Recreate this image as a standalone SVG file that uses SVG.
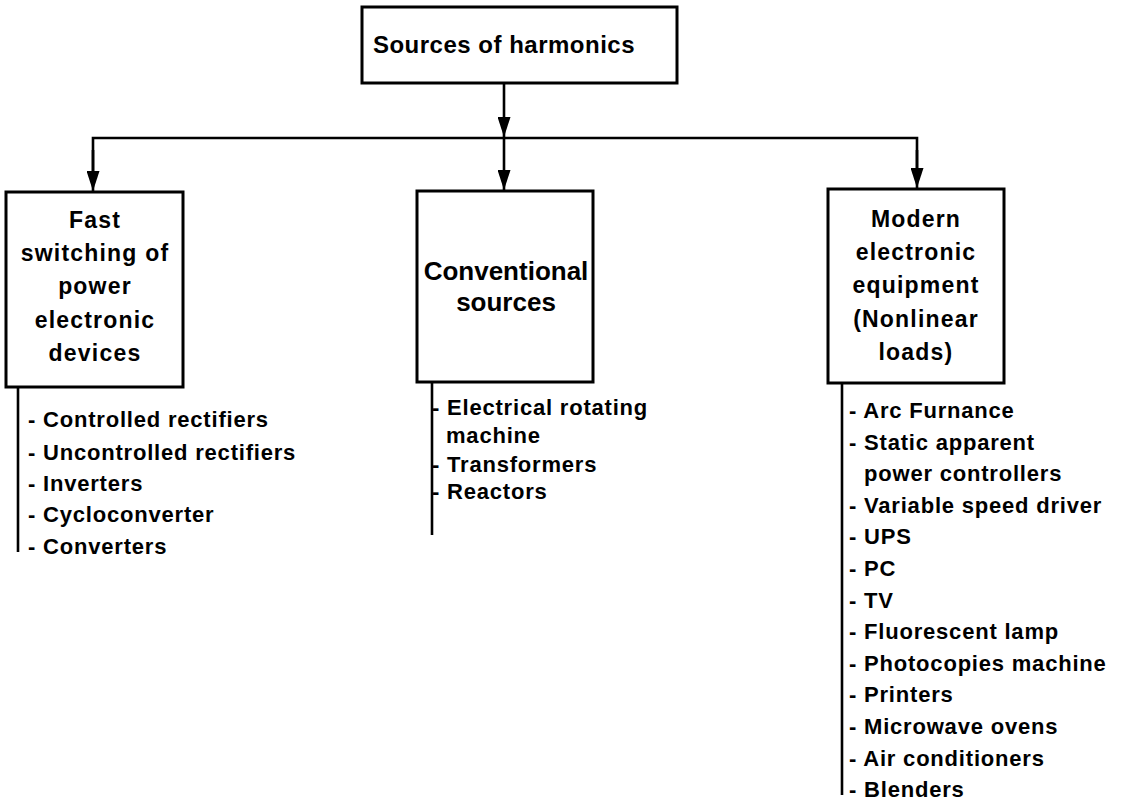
<svg xmlns="http://www.w3.org/2000/svg" width="1121" height="802" viewBox="0 0 1121 802">
<style>
.box{fill:#fff;stroke:#000;stroke-width:3}
.ln{fill:none;stroke:#000;stroke-width:2.6}
.t{font-family:"Liberation Sans",Arial,sans-serif;font-weight:bold;fill:#000}
.bt{font-size:23px;letter-spacing:1.2px;text-anchor:middle}
.lt{font-size:22px;letter-spacing:0.8px}
</style>
<defs>
<marker id="ah" markerWidth="20" markerHeight="13" refX="20" refY="6.5" viewBox="0 0 20 13" markerUnits="userSpaceOnUse" orient="auto">
<path d="M0,0 L20,6.5 L0,13 Z" fill="#000"/>
</marker>
</defs>
<rect width="1121" height="802" fill="#fff"/>
<g id="connectors">
<line class="ln" x1="504" y1="83" x2="504" y2="137" marker-end="url(#ah)"/>
<line class="ln" x1="504" y1="137" x2="504" y2="190" marker-end="url(#ah)"/>
<polyline class="ln" points="93,175 93,138 917,138 917,172"/>
<line class="ln" x1="93" y1="150" x2="93" y2="191" marker-end="url(#ah)"/>
<line class="ln" x1="917" y1="150" x2="917" y2="188" marker-end="url(#ah)"/>
<line class="ln" x1="18" y1="387" x2="18" y2="552"/>
<line class="ln" x1="432" y1="382" x2="432" y2="535"/>
<line class="ln" x1="842" y1="383" x2="842" y2="795"/>
</g>
<g id="root">
<rect class="box" x="362" y="7" width="315" height="76"/>
<text class="t" x="504" y="53" font-size="24" letter-spacing="0.5" text-anchor="middle">Sources of harmonics</text>
</g>
<g id="fast">
<rect class="box" x="6" y="192" width="177" height="195"/>
<text class="t bt" x="95" y="228">Fast</text>
<text class="t bt" x="95" y="261" letter-spacing="1.8">switching of</text>
<text class="t bt" x="95" y="294">power</text>
<text class="t bt" x="95" y="328">electronic</text>
<text class="t bt" x="95" y="361">devices</text>
</g>
<g id="conventional">
<rect class="box" x="417" y="191" width="176" height="191"/>
<text class="t" x="506" y="280" font-size="26" text-anchor="middle">Conventional</text>
<text class="t" x="506" y="311" font-size="26" text-anchor="middle">sources</text>
</g>
<g id="modern">
<rect class="box" x="828" y="189" width="176" height="194"/>
<text class="t bt" x="916" y="227">Modern</text>
<text class="t bt" x="916" y="260">electronic</text>
<text class="t bt" x="916" y="293">equipment</text>
<text class="t bt" x="916" y="327">(Nonlinear</text>
<text class="t bt" x="916" y="360">loads)</text>
</g>
<g id="list-fast">
<text class="t lt" x="28" y="427">- Controlled rectifiers</text>
<text class="t lt" x="28" y="460">- Uncontrolled rectifiers</text>
<text class="t lt" x="28" y="491">- Inverters</text>
<text class="t lt" x="28" y="522">- Cycloconverter</text>
<text class="t lt" x="28" y="554">- Converters</text>
</g>
<g id="list-conventional">
<text class="t lt" x="432" y="415">- Electrical rotating</text>
<text class="t lt" x="446" y="443">machine</text>
<text class="t lt" x="432" y="472">- Transformers</text>
<text class="t lt" x="432" y="499">- Reactors</text>
</g>
<g id="list-modern">
<text class="t lt" x="849" y="418">- Arc Furnance</text>
<text class="t lt" x="849" y="450">- Static apparent</text>
<text class="t lt" x="864" y="481">power controllers</text>
<text class="t lt" x="849" y="513">- Variable speed driver</text>
<text class="t lt" x="849" y="544">- UPS</text>
<text class="t lt" x="849" y="576">- PC</text>
<text class="t lt" x="849" y="608">- TV</text>
<text class="t lt" x="849" y="639">- Fluorescent lamp</text>
<text class="t lt" x="849" y="671">- Photocopies machine</text>
<text class="t lt" x="849" y="702">- Printers</text>
<text class="t lt" x="849" y="734">- Microwave ovens</text>
<text class="t lt" x="849" y="766">- Air conditioners</text>
<text class="t lt" x="849" y="797">- Blenders</text>
</g>
</svg>
